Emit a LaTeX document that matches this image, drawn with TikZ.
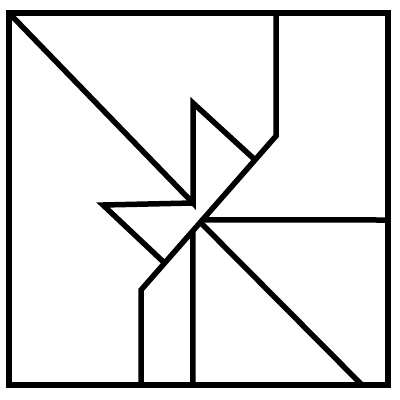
\documentclass[tikz,border=0pt]{standalone}
\usetikzlibrary{calc}
\begin{document}
\begin{tikzpicture}[x=1pt,y=-1pt,
  edge/.style={line width=5.5pt,black}]
\useasboundingbox (0,0) rectangle (400,400);
% outer frame
\coordinate (TL) at (9,13);
\coordinate (BR) at (388,385);
% key points
\coordinate (A) at (193,203);   % end of long top-left diagonal
\coordinate (Tip) at (193,103); % top spike
\coordinate (D1) at (276,136);  % top elbow
\coordinate (D2) at (141,290);  % bottom elbow
\coordinate (L) at (103,205);   % left spike
\coordinate (C) at (201,223);   % centre on the long diagonal
\draw[edge] (TL) rectangle (BR);
% top-left diagonal with spikes
\draw[edge] (TL) -- (A) -- (Tip) -- ($(D1)!0.155!(D2)$);
\draw[edge] (A) -- (L) -- ($(D1)!0.825!(D2)$);
% long diagonal with vertical ends
\draw[edge] (276,13) -- (D1) -- (D2) -- (141,385);
% right horizontal
\draw[edge] ($(D1)!0.545!(D2)$) -- (388,220);
% bottom-right diagonal
\draw[edge] (C) -- (362,385);
% bottom vertical
\draw[edge] ($(D1)!0.615!(D2)$) -- (193,385);
\end{tikzpicture}
\end{document}
